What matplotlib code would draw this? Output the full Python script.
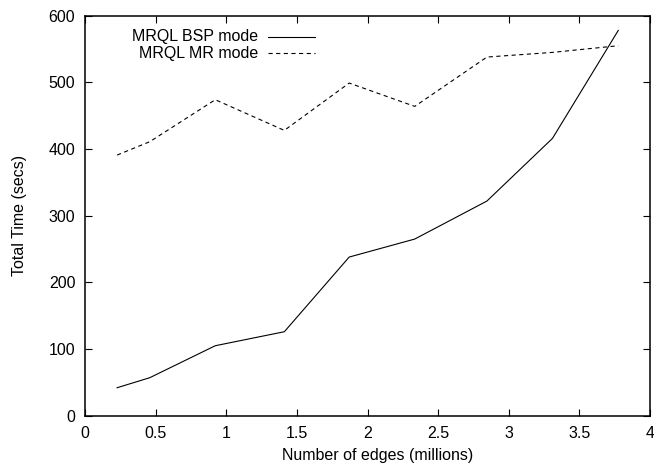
import matplotlib
matplotlib.use('Agg')
import matplotlib.pyplot as plt

plt.rcParams['font.family'] = ['Liberation Sans', 'DejaVu Sans']
plt.rcParams['lines.scale_dashes'] = False

# data
edges = [0.227, 0.458, 0.922, 1.411, 1.870, 2.334, 2.845, 3.309, 3.775]
bsp_time = [42, 57, 105, 126, 238, 265, 322, 416, 578]
mr_time = [391, 411, 474, 428, 499, 464, 538, 545, 555]

labels = ['MRQL BSP mode', 'MRQL MR mode']

fig = plt.figure(figsize=(6.54, 4.68), dpi=100)
ax = fig.add_axes([0.130, 0.1117, 0.864, 0.8547])

ax.plot(edges, bsp_time, color='black', lw=0.8)
ax.plot(edges, mr_time, color='black', lw=0.8, dashes=(3, 2.5))

ax.set_xlim(0, 4)
ax.set_ylim(0, 600)
ax.set_xticks([0, 0.5, 1, 1.5, 2, 2.5, 3, 3.5, 4])
ax.set_xticklabels(['0', '0.5', '1', '1.5', '2', '2.5', '3', '3.5', '4'])
ax.set_yticks([0, 100, 200, 300, 400, 500, 600])
ax.tick_params(direction='in', top=True, right=True, length=4.8, width=0.8,
               labelsize=11.5)
ax.tick_params(axis='x', pad=7.5)
ax.tick_params(axis='y', pad=7)
for s in ax.spines.values():
    s.set_linewidth(1.1)

ax.set_xlabel('Number of edges (millions)', fontsize=11.5)
ax.set_ylabel('Total Time (secs)', fontsize=11.5)
ax.xaxis.set_label_coords(0.517, -0.081)
ax.yaxis.set_label_coords(-0.103, 0.5)

# gnuplot style key: text right aligned, sample to the right
key_y = [0.9475, 0.906]
styles = [dict(), dict(dashes=(3, 2.5))]
for lab, yy, st in zip(labels, key_y, styles):
    ax.text(0.3067, yy, lab, transform=ax.transAxes, ha='right', va='center',
            fontsize=11.5)
    ax.plot([0.324, 0.407], [yy, yy], transform=ax.transAxes, color='black',
            lw=0.8, **st)

fig.savefig('out.png', dpi=100)
